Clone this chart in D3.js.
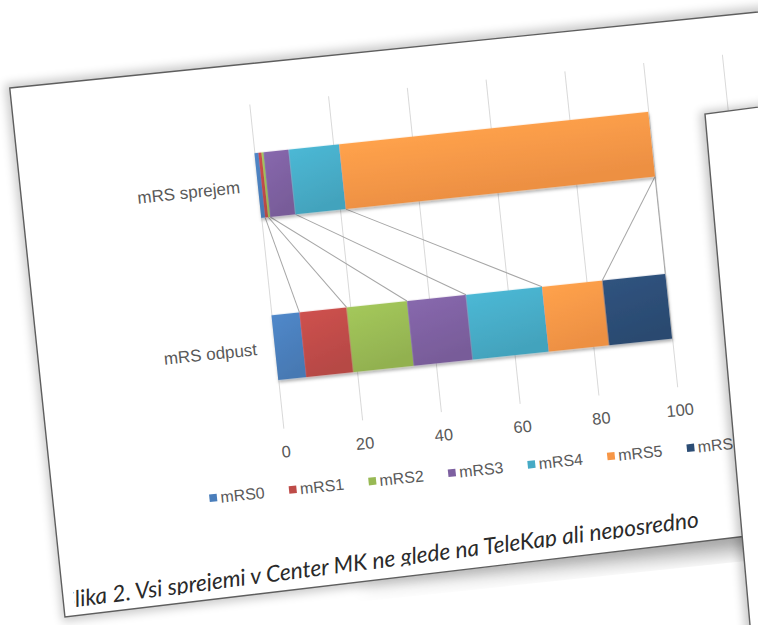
<!DOCTYPE html>
<html>
<head>
<meta charset="utf-8">
<script src="https://cdn.jsdelivr.net/npm/d3@7"></script>
<style>
  html, body { margin: 0; padding: 0; background: #ffffff; }
  svg { display: block; }
</style>
</head>
<body>
<svg id="page" width="758" height="625"></svg>
<script>
// ---- data -------------------------------------------------------------
const categories = ["mRS sprejem", "mRS odpust"];
const seriesNames = ["mRS0", "mRS1", "mRS2", "mRS3", "mRS4", "mRS5", "mRS6"];
const mRS0 = [1.0, 7.1];
const mRS1 = [0.8, 12.0];
const mRS2 = [0.5, 15.3];
const mRS3 = [6.4, 15.0];
const mRS4 = [12.8, 19.3];
const mRS5 = [78.5, 15.3];
const mRS6 = [0.0, 16.0];
const xTicks = [0, 20, 40, 60, 80, 100, 120];
const caption = "Slika 2. Vsi sprejemi v Center MK ne glede na TeleKap ali neposredno";

const seriesValues = { mRS0, mRS1, mRS2, mRS3, mRS4, mRS5, mRS6 };
const rows = categories.map((c, i) => {
  const r = { cat: c };
  seriesNames.forEach(k => { r[k] = seriesValues[k][i]; });
  return r;
});
const colors = ["#4a7ebb", "#be4b48", "#98b954", "#7d60a0", "#46aac5", "#f79646", "#2c4d75"];
const color = d3.scaleOrdinal().domain(seriesNames).range(colors);

// ---- svg & defs ---------------------------------------------------------
const svg = d3.select("#page");
const defs = svg.append("defs");

function blurFilter(id, sd) {
  defs.append("filter").attr("id", id)
    .attr("x", "-20%").attr("y", "-20%").attr("width", "140%").attr("height", "140%")
    .append("feGaussianBlur").attr("stdDeviation", sd);
}
blurFilter("soft", 5);
blurFilter("softer", 9);

const barShadow = defs.append("filter").attr("id", "barShadow")
  .attr("x", "-10%").attr("y", "-20%").attr("width", "120%").attr("height", "150%");
barShadow.append("feDropShadow").attr("dx", 0.5).attr("dy", 2.5)
  .attr("stdDeviation", 1.6).attr("flood-color", "#000").attr("flood-opacity", 0.3);

seriesNames.forEach(k => {
  const c = d3.color(color(k));
  const gr = defs.append("linearGradient").attr("id", "grad-" + k)
    .attr("x1", 0).attr("y1", 0).attr("x2", 0.25).attr("y2", 1);
  gr.append("stop").attr("offset", "0%").attr("stop-color", c.brighter(0.22));
  gr.append("stop").attr("offset", "100%").attr("stop-color", c.darker(0.12));
});

// ---- first sheet (tilted page holding the chart) -----------------------
const sheet = svg.append("g").attr("transform", "rotate(-6)");
const sheetOutline = [[0.5, 88.6], [960, 91.8], [960, 607.5], [0.1, 620.4]];
const line = d3.line();

sheet.append("path")
  .attr("d", line([[-4, 84], [960, 86], [960, 612], [-3, 625]]) + "Z")
  .attr("fill", "#000").attr("opacity", 0.2).attr("filter", "url(#soft)");
sheet.append("path")
  .attr("d", line([[300, 616], [960, 604], [960, 630], [300, 620]]) + "Z")
  .attr("fill", "#000").attr("opacity", 0.35).attr("filter", "url(#softer)");
sheet.append("path")
  .attr("d", line(sheetOutline) + "Z")
  .attr("fill", "#ffffff").attr("stroke", "#5e5e5e").attr("stroke-width", 1.4);

// ---- chart --------------------------------------------------------------
const x = d3.scaleLinear().domain([0, 120]).range([237, 712.2]);
const y = d3.scaleBand().domain(categories).range([130, 456])
  .paddingInner(0.6).paddingOuter(0.3);
const plotTop = 130, plotBottom = 456;

const stack = d3.stack().keys(seriesNames)(rows);

const chart = sheet.append("g");

// vertical gridlines and value labels
const axis = d3.axisBottom(x).tickValues(xTicks).tickFormat(d3.format("d"))
  .tickSizeInner(-(plotBottom - plotTop)).tickSizeOuter(0).tickPadding(17);
const ax = chart.append("g").attr("transform", `translate(0,${plotBottom})`).call(axis);
ax.select(".domain").remove();
ax.selectAll(".tick line").attr("stroke", "#d9d9d9").attr("stroke-width", 1);
ax.selectAll(".tick text")
  .attr("fill", "#595959")
  .attr("font-family", "'Liberation Sans', Arial, sans-serif")
  .attr("font-size", 16.5);

// series lines joining the ends of each series between the two bars
const seriesLines = chart.append("g");
stack.forEach(layer => {
  seriesLines.append("line")
    .attr("x1", x(layer[0][1])).attr("y1", y(categories[0]) + y.bandwidth())
    .attr("x2", x(layer[1][1])).attr("y2", y(categories[1]))
    .attr("stroke", "#a6a6a6").attr("stroke-width", 1);
});

// stacked bars
const bars = chart.append("g").attr("filter", "url(#barShadow)");
bars.selectAll("g.series").data(stack).join("g")
  .attr("class", "series")
  .attr("fill", d => `url(#grad-${d.key})`)
  .selectAll("rect").data(d => d).join("rect")
  .attr("x", d => x(d[0]))
  .attr("width", d => Math.max(0, x(d[1]) - x(d[0])))
  .attr("y", d => y(d.data.cat))
  .attr("height", y.bandwidth());

// category labels
chart.append("g").selectAll("text").data(categories).join("text")
  .attr("x", 219)
  .attr("y", d => y(d) + y.bandwidth() / 2)
  .attr("text-anchor", "end")
  .attr("dominant-baseline", "central")
  .attr("fill", "#595959")
  .attr("font-family", "'Liberation Sans', Arial, sans-serif")
  .attr("font-size", 17)
  .text(d => d);

// legend
const legendStep = 80, legendX = 156.2, legendY = 517.5;
const legend = chart.append("g");
const li = legend.selectAll("g").data(seriesNames).join("g")
  .attr("transform", (d, i) => `translate(${legendX + i * legendStep},${legendY})`);
li.append("rect").attr("x", 0).attr("y", -3.8).attr("width", 7.6).attr("height", 7.6)
  .attr("fill", d => color(d));
li.append("text").attr("x", 11).attr("y", 0)
  .attr("dominant-baseline", "central")
  .attr("fill", "#595959")
  .attr("font-family", "'Liberation Sans', Arial, sans-serif")
  .attr("font-size", 16)
  .text(d => d);

// figure caption, cropped at its baseline like the page it was cut from
const capX = 12, capY = 611.6;
defs.append("clipPath").attr("id", "capClip")
  .attr("clipPathUnits", "userSpaceOnUse")
  .append("rect").attr("x", capX - 0.6).attr("y", capY - 40).attr("width", 720).attr("height", 41.2);
const capG = sheet.append("g").attr("transform", `rotate(-1.3, ${capX}, ${capY})`);
const cap = capG.append("text")
  .attr("x", capX).attr("y", capY)
  .attr("fill", "#2a2a2a")
  .attr("font-family", "Lato, 'Open Sans', sans-serif")
  .attr("font-style", "italic")
  .attr("font-size", 22)
  .attr("clip-path", "url(#capClip)")
  .text(caption);
{
  const n = cap.node();
  const sW = n.getSubStringLength(0, 1);
  const total = n.getComputedTextLength();
  const k = 629 / (total - sW);
  cap.attr("font-size", 22 * k).attr("x", capX - sW * k);
}

// ---- second sheet lying over the right side ----------------------------
const sheet2 = [[705, 114], [820, 99], [820, 700], [756.6, 700]];
svg.append("path")
  .attr("d", line(sheet2.map(([a, b]) => [a - 5, b - 2])) + "Z")
  .attr("fill", "#000").attr("opacity", 0.22).attr("filter", "url(#soft)");
svg.append("path")
  .attr("d", line(sheet2) + "Z")
  .attr("fill", "#ffffff");
svg.append("path")
  .attr("d", line([[756.6, 700], [705, 114], [820, 99]]))
  .attr("fill", "none").attr("stroke", "#5e5e5e").attr("stroke-width", 1.4);
</script>
</body>
</html>
